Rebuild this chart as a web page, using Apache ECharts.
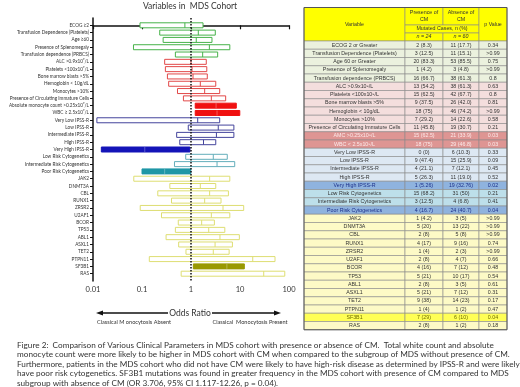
<!DOCTYPE html>
<html>
<head>
<meta charset="utf-8">
<script src="https://cdn.jsdelivr.net/npm/echarts@6/dist/echarts.min.js"></script>
<style>
  html, body { margin: 0; padding: 0; background: #fff; }
  #chart { width: 520px; height: 387px; }
</style>
</head>
<body>
<div id="chart"></div>
<script>
// forest plot rows (top to bottom)
const variables = [
  "ECOG \u22652", "Transfusion Dependence (Platelets)", "Age \u226560", "Presence of Splenomegaly",
  "Transfusion dependence (PRBCS)", "ALC >0.9x10\u2079/L", "Platelets <100x10\u2079/L",
  "Bone marrow blasts >5%", "Hemoglobin < 10g/dL", "Monocytes >10%",
  "Presence of Circulating Immature Cells", "Absolute monocyte count >0.25x10\u2079/L",
  "WBC \u2265 2.5x10\u2079/L", "Very Low IPSS-R", "Low IPSS-R", "Intermediate IPSS-R", "High IPSS-R",
  "Very High IPSS-R", "Low Risk Cytogenetics", "Intermediate Risk Cytogenetics",
  "Poor Risk Cytogenetics", "JAK2", "DNMT3A", "CBL", "RUNX1", "ZRSR2", "U2AF1", "BCOR",
  "TP53", "ABL1", "ASXL1", "TET2", "PTPN11", "SF3B1", "RAS"
];
const groups = [
  "clin", "clin", "clin", "clin", "clin",
  "blood", "blood", "blood", "blood", "blood", "blood", "blood", "blood",
  "ipss", "ipss", "ipss", "ipss", "ipss",
  "cyto", "cyto", "cyto",
  "gene", "gene", "gene", "gene", "gene", "gene", "gene", "gene", "gene", "gene", "gene", "gene", "gene", "gene"
];
const lowCI = [0.091, 0.23, 0.27, 0.067, 0.48, 0.29, 0.30, 0.33, 0.35, 0.53, 0.70, 1.22, 1.22,
  0.012, 0.88, 0.51, 0.59, 0.0148, 0.78, 0.46, 0.10, 0.068, 0.37, 0.21, 0.40, 0.092, 0.25, 0.55,
  0.48, 0.31, 0.56, 0.79, 0.141, 1.117, 0.63];
const oddsRatio = [0.75, 1.41, 1.28, 2.37, 1.73, 1.0, 1.05, 1.1, 1.55, 1.9, 2.6, 3.25, 3.4,
  1.37, 3.6, 3.3, 1.8, 0.114, 2.85, 3.4, 0.29, 2.4, 1.55, 2.4, 1.9, 4.5, 2.6, 1.65,
  2.3, 3.9, 3.1, 2.85, 18.2, 5.4, 30.5];
const highCI = [1.76, 3.13, 2.68, 6.2, 3.5, 2.05, 2.1, 2.15, 3.2, 3.85, 5.1, 8.4, 9.9,
  3.85, 7.5, 7.5, 3.2, 0.95, 5.5, 7.8, 0.99, 6.2, 3.2, 5.8, 4.1, 11.9, 6.2, 3.0,
  4.9, 9.7, 7.0, 6.0, 51.8, 12.26, 82];
const significant = [11, 12, 17, 20, 33];
const xTicks = [0.01, 0.1, 1, 10, 100];

// table on the right
const tableVariables = [
  "ECOG 2 or Greater", "Transfusion Dependence (Platelets)", "Age 60 or Greater",
  "Presence of Splenomegaly", "Transfusion dependence (PRBCS)", "ALC >0.9x10\u2079/L",
  "Platelets <100x10\u2079/L", "Bone marrow blasts >5%", "Hemoglobin < 10g/dL", "Monocytes >10%",
  "Presence of Circulating Immature Cells", "AMC >0.25x10\u2079/L", "WBC < 2.5x10\u2079/L",
  "Very Low IPSS-R", "Low IPSS-R", "Intermediate IPSS-R", "High IPSS-R", "Very High IPSS-R",
  "Low Risk Cytogenetics", "Intermediate Risk Cytogenetics", "Poor Risk Cytogenetics",
  "JAK2", "DNMT3A", "CBL", "RUNX1", "ZRSR2", "U2AF1", "BCOR", "TP53", "ABL1", "ASXL1",
  "TET2", "PTPN11", "SF3B1", "RAS"
];
const presenceCM = ["2 (8.3)", "3 (12.5)", "20 (83.3)", "1 (4.2)", "16 (66.7)", "13 (54.2)",
  "15 (62.5)", "9 (37.5)", "18 (75)", "7 (29.2)", "11 (45.8)", "15 (62.5)", "18 (75)",
  "0 (0)", "9 (47.4)", "4 (21.1)", "5 (26.3)", "1 (5.26)", "15 (68.2)", "3 (12.5)", "4 (16.7)",
  "1 (4.2)", "5 (20)", "2 (8)", "4 (17)", "1 (4)", "2 (8)", "4 (16)", "5 (21)", "2 (8)",
  "5 (21)", "9 (38)", "1 (4)", "7 (29)", "2 (8)"];
const absenceCM = ["11 (17.7)", "11 (15.1)", "53 (85.5)", "3 (4.8)", "38 (61.3)", "38 (61.3)",
  "42 (67.7)", "26 (42.0)", "46 (74.2)", "14 (22.6)", "19 (30.7)", "21 (33.9)", "29 (46.8)",
  "6 (10.3)", "15 (25.9)", "7 (12.1)", "11 (19.0)", "19 (32.76)", "31 (50)", "4 (6.8)", "24 (40.7)",
  "3 (5)", "13 (22)", "5 (8)", "9 (16)", "2 (3)", "4 (7)", "7 (12)", "10 (17)", "3 (5)",
  "7 (12)", "14 (23)", "1 (2)", "6 (10)", "1 (2)"];
const pValues = ["0.34", ">0.99", "0.75", ">0.99", "0.8", "0.63", "0.8", "0.81", ">0.99", "0.58",
  "0.21", "0.03", "0.03", "0.33", "0.09", "0.45", "0.52", "0.02", "0.21", "0.41", "0.04",
  ">0.99", ">0.99", ">0.99", "0.74", ">0.99", "0.66", "0.48", "0.54", "0.61", "0.31", "0.17",
  "0.47", "0.04", "0.18"];

const captionLines = [
  "Figure 2:  Comparison of Various Clinical Parameters in MDS cohort with presence or absence of CM.  Total white count and absolute",
  "monocyte count were more likely to be higher in MDS cohort with CM when compared to the subgroup of MDS without presence of CM.",
  "Furthermore, patients in the MDS cohort who did not have CM were likely to have high-risk disease as determined by IPSS-R and were likely to",
  "have poor risk cytogenetics. SF3B1 mutations was found in greater frequency in the MDS cohort with presence of CM compared to MDS",
  "subgroup with absence of CM (OR 3.706, 95% CI 1.117-12.26, p = 0.04)."
];

const boxColors = {
  clin: { line: "#47b24a", fill: "#47b24a" },
  blood: { line: "#e24848", fill: "#f01010" },
  ipss: { line: "#44449c", fill: "#1414b8" },
  cyto: { line: "#63aebb", fill: "#1f97a6" },
  gene: { line: "#dede72", fill: "#999900" }
};

// table row styling per variable
function rowStyle(i) {
  if (significant.indexOf(i) >= 0) {
    if (groups[i] === "blood") return { bg: "#de9593", color: "#fbe9e9" };
    if (groups[i] === "gene") return { bg: "#ffff55", color: "#6f6f00" };
    return { bg: "#8fb3de", color: "#1c2f8a" };
  }
  if (groups[i] === "clin") return { bg: "#ebf1de", color: "#333" };
  if (groups[i] === "blood") return { bg: "#f4dedd", color: "#333" };
  if (groups[i] === "ipss") return { bg: "#dde8f3", color: "#333" };
  if (groups[i] === "cyto") return { bg: "#bddfea", color: "#333" };
  return { bg: "#fdfac6", color: "#333" };
}

var chartDom = document.getElementById("chart");
var myChart = echarts.init(chartDom);

const font = "'Liberation Sans', Arial, sans-serif";
const capFont = "Lato, 'Open Sans', sans-serif";

// build table
const cols = [304, 405, 443, 479, 507];
const headTop = 7.5, midRow = 25, nRow = 33, dataTop = 41, rowH = 8.25;
const border = "#8a8a8a";
const elements = [];

function cell(x0, y0, x1, y1, fill, text, color, fnt) {
  elements.push({
    type: "rect",
    shape: { x: x0, y: y0, width: x1 - x0, height: y1 - y0 },
    style: { fill, stroke: border, lineWidth: 0.6 },
    z: 10
  });
  if (text) {
    elements.push({
      type: "text",
      x: (x0 + x1) / 2,
      y: (y0 + y1) / 2,
      style: {
        text, fill: color, font: fnt || "5.3px " + font,
        align: "center", verticalAlign: "middle", lineHeight: 6.5
      },
      z: 11
    });
  }
}

const yellow = "#ffff00";
cell(cols[0], headTop, cols[1], dataTop, yellow, "Variable", "#333");
cell(cols[1], headTop, cols[2], midRow, yellow, "Presence of\nCM", "#333");
cell(cols[2], headTop, cols[3], midRow, yellow, "Absence of\nCM", "#333");
cell(cols[1], midRow, cols[3], nRow, yellow, "Mutated Cases, n (%)", "#333");
cell(cols[1], nRow, cols[2], dataTop, yellow, "n = 24", "#333", "italic 5.3px " + font);
cell(cols[2], nRow, cols[3], dataTop, yellow, "n = 60", "#333", "italic 5.3px " + font);
cell(cols[3], headTop, cols[4], dataTop, yellow, "p Value", "#333");

tableVariables.forEach((name, i) => {
  const y0 = dataTop + i * rowH, y1 = y0 + rowH;
  const st = rowStyle(i);
  cell(cols[0], y0, cols[1], y1, st.bg, name, st.color);
  cell(cols[1], y0, cols[2], y1, st.bg, presenceCM[i], st.color);
  cell(cols[2], y0, cols[3], y1, st.bg, absenceCM[i], st.color);
  cell(cols[3], y0, cols[4], y1, st.bg, pValues[i], st.color);
});
elements.push({
  type: "rect",
  shape: { x: cols[0], y: headTop, width: cols[4] - cols[0], height: dataTop + tableVariables.length * rowH - headTop },
  style: { fill: "none", stroke: "#555", lineWidth: 1 },
  z: 12
});

// title
elements.push({
  type: "text", x: 190, y: 6,
  style: { text: "Variables in  MDS Cohort", font: "8.5px " + capFont, fill: "#333", align: "center", verticalAlign: "middle" }
});

// odds ratio arrow + labels
const arrowY = 313;
elements.push(
  { type: "line", shape: { x1: 100, y1: arrowY, x2: 168, y2: arrowY }, style: { stroke: "#111", lineWidth: 1.5 } },
  { type: "line", shape: { x1: 212, y1: arrowY, x2: 276, y2: arrowY }, style: { stroke: "#111", lineWidth: 1.5 } },
  { type: "polygon", shape: { points: [[96, arrowY], [103, arrowY - 2.5], [103, arrowY + 2.5]] }, style: { fill: "#111" } },
  { type: "polygon", shape: { points: [[281, arrowY], [274, arrowY - 2.5], [274, arrowY + 2.5]] }, style: { fill: "#111" } },
  { type: "text", x: 190, y: arrowY, style: { text: "Odds Ratio", font: "8.5px " + capFont, fill: "#333", align: "center", verticalAlign: "middle" } },
  { type: "text", x: 134, y: 322, style: { text: "Classical M onocytosis Absent", font: "5.6px " + capFont, fill: "#333", align: "center", verticalAlign: "middle" } },
  { type: "text", x: 250, y: 322, style: { text: "Classical  Monocytosis Present", font: "5.6px " + capFont, fill: "#333", align: "center", verticalAlign: "middle" } }
);

// caption
captionLines.forEach((line, i) => {
  elements.push({
    type: "text", x: 17, y: 345 + i * 9.5,
    style: { text: line, font: "8.2px " + capFont, fill: "#333", align: "left", verticalAlign: "middle" }
  });
});

const rowIdx = variables.map((v, i) => i);
const forestData = variables.map((v, i) => [i, lowCI[i], oddsRatio[i], highCI[i]]);

const option = {
  animation: false,
  grid: { left: 93, right: 231, top: 18, bottom: 106 },
  xAxis: {
    type: "log",
    logBase: 10,
    min: 0.01,
    max: 100,
    axisLine: { lineStyle: { color: "#111", width: 1.5 } },
    axisTick: { length: 4, lineStyle: { color: "#111", width: 1.2 }, customValues: xTicks },
    axisLabel: { fontSize: 7.5, color: "#333", margin: 5, fontFamily: capFont, customValues: xTicks, formatter: (v) => String(v) },
    splitLine: { show: false },
    minorTick: { show: false }
  },
  yAxis: {
    type: "value",
    inverse: true,
    min: -1,
    max: 35,
    axisLine: { show: true, lineStyle: { color: "#111", width: 1.5 } },
    axisTick: { show: true, length: 3, lineStyle: { color: "#111", width: 1 }, customValues: rowIdx },
    axisLabel: {
      customValues: rowIdx,
      formatter: (v) => variables[v] || "",
      fontSize: 4.7,
      color: "#333",
      margin: 4,
      fontFamily: capFont
    },
    splitLine: { show: false }
  },
  series: [
    {
      type: "custom",
      data: forestData,
      encode: { x: [1, 2, 3], y: 0 },
      renderItem: function (params, api) {
        const i = api.value(0);
        const lo = api.coord([api.value(1), i]);
        const mid = api.coord([api.value(2), i]);
        const hi = api.coord([api.value(3), i]);
        const h = 5;
        const c = boxColors[groups[i]];
        const filled = significant.indexOf(i) >= 0;
        return {
          type: "group",
          children: [
            {
              type: "rect",
              shape: { x: lo[0], y: lo[1] - h / 2, width: hi[0] - lo[0], height: h },
              style: { fill: filled ? c.fill : "#fff", stroke: filled ? c.fill : c.line, lineWidth: 1 }
            },
            {
              type: "line",
              shape: { x1: mid[0], y1: lo[1] - h / 2, x2: mid[0], y2: lo[1] + h / 2 },
              style: { stroke: filled ? "rgba(255,255,255,0.3)" : c.line, lineWidth: 1 }
            }
          ]
        };
      },
      z: 2
    },
    {
      type: "line",
      data: [[1, -1], [1, 35]],
      symbol: "none",
      lineStyle: { color: "#111", width: 1.5, type: [1.5, 1.5] },
      z: 3,
      silent: true
    }
  ],
  graphic: { elements }
};

myChart.setOption(option);
</script>
</body>
</html>
